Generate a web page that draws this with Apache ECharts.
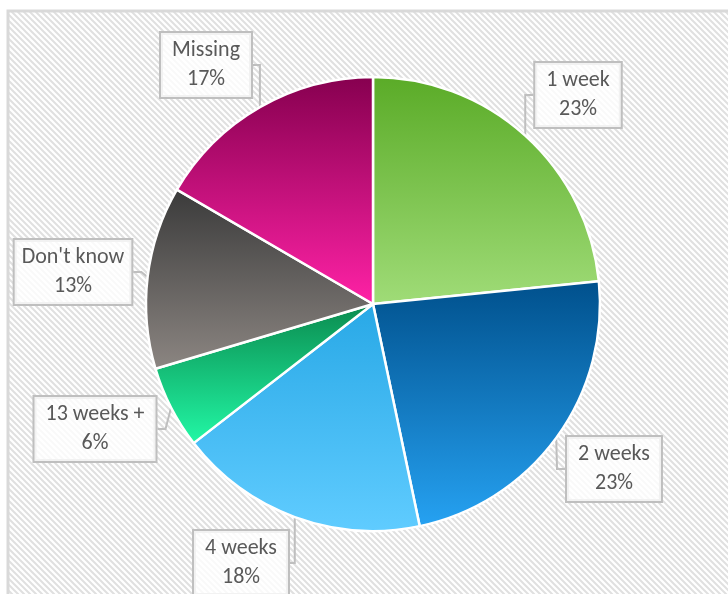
<!DOCTYPE html>
<html>
<head>
<meta charset="utf-8">
<script src="https://cdn.jsdelivr.net/npm/echarts@6/dist/echarts.min.js"></script>
<style>
  html, body { margin: 0; padding: 0; background: #fff; }
  #chart { width: 728px; height: 594px; }
</style>
</head>
<body>
<div id="chart"></div>
<script>
const categories = ['1 week', '2 weeks', '4 weeks', '13 weeks +', "Don't know", 'Missing']
const shares = [23.4, 23.3, 17.8, 5.9, 13.0, 16.6]

// top / bottom gradient colours for each slice
const topColors = ['#5aab27', '#00508c', '#28a8e6', '#0a8a4e', '#3a3a3a', '#86004f']
const bottomColors = ['#a0dc78', '#26a2f2', '#60ccff', '#22f8a6', '#8c8682', '#ff22a6']

// label box centres
const labelPos = [[578, 95], [614, 469], [241, 563], [95, 429], [73, 272], [206, 65]]

function hatch() {
  const n = 6
  const c = document.createElement('canvas')
  c.width = n
  c.height = n
  const g = c.getContext('2d')
  g.fillStyle = '#ffffff'
  g.fillRect(0, 0, n, n)
  g.strokeStyle = '#e0e0e0'
  g.lineWidth = 2
  g.beginPath()
  g.moveTo(-1, -1); g.lineTo(n + 1, n + 1)
  g.moveTo(-1, n - 1); g.lineTo(1, n + 1)
  g.moveTo(n - 1, -1); g.lineTo(n + 1, 1)
  g.stroke()
  return c
}

const chart = echarts.init(document.getElementById('chart'))
chart.setOption({
  animation: false,
  graphic: [{
    type: 'rect',
    z: -10,
    silent: true,
    shape: { x: 8, y: 11, width: 740, height: 600 },
    style: { fill: { image: hatch(), repeat: 'repeat' }, stroke: '#d9d9d9', lineWidth: 3 }
  }],
  series: [{
    type: 'pie',
    center: [373, 304],
    radius: 227,
    startAngle: 90,
    clockwise: true,
    percentPrecision: 0,
    data: categories.map((name, i) => ({
      name,
      value: shares[i],
      itemStyle: {
        color: new echarts.graphic.LinearGradient(0, 0, 0, 1, [
          { offset: 0, color: topColors[i] },
          { offset: 1, color: bottomColors[i] }
        ])
      }
    })),
    itemStyle: { borderColor: '#ffffff', borderWidth: 2.5 },
    label: {
      show: true,
      formatter: '{b}\n{d}%',
      fontFamily: 'Carlito, Lato, sans-serif',
      fontSize: 22,
      lineHeight: 29,
      color: '#595959',
      align: 'center',
      overflow: 'none',
      backgroundColor: 'rgba(255,255,255,0.8)',
      borderColor: '#bfbfbf',
      borderWidth: 2,
      padding: [4, 11, 2, 11]
    },
    labelLine: {
      show: true,
      length: 8,
      length2: 8,
      lineStyle: { color: '#bfbfbf', width: 2 }
    },
    labelLayout: function (p) {
      const pos = labelPos[p.dataIndex]
      return {
        x: pos[0],
        y: pos[1],
        align: 'center',
        verticalAlign: 'middle'
      }
    }
  }]
})
</script>
</body>
</html>
